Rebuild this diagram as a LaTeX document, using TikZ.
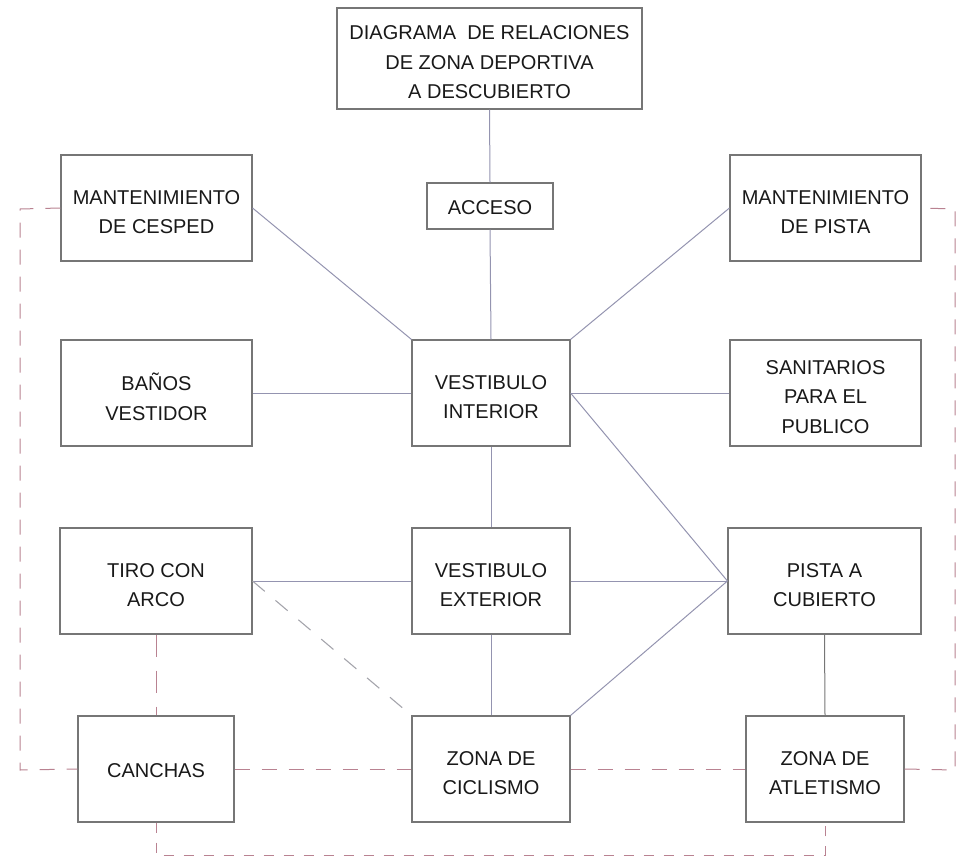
\documentclass[tikz,border=0pt]{standalone}
\usepackage{fontspec}
\setmainfont{Liberation Sans}
\definecolor{boxline}{RGB}{118,118,118}
\definecolor{link}{RGB}{148,148,176}
\definecolor{zone}{RGB}{185,130,145}
\definecolor{softdash}{RGB}{165,165,172}
\definecolor{labeltext}{RGB}{25,25,25}
\begin{document}
\begin{tikzpicture}[x=1pt,y=-1pt,
  room/.style={draw=boxline,line width=1.1pt,fill=white,inner sep=0pt},
  roomtext/.style={inner sep=0pt,align=center,text=labeltext,yshift=-4pt,
    font=\fontsize{20}{29.5}\selectfont},
  rel/.style={draw=link,line width=1pt},
  weak/.style={draw=softdash,line width=1.1pt,dash pattern=on 16pt off 14pt},
  zoneline/.style={draw=zone,line width=1pt,dash pattern=on 15pt off 12pt}]
\useasboundingbox (0,0) rectangle (958,859);

% rooms, each with its name set slightly below the middle
\node[room,minimum width=305pt,minimum height=101pt,
  label={[roomtext]center:{DIAGRAMA\ \ DE RELACIONES\\DE ZONA DEPORTIVA\\A DESCUBIERTO}}] (title) at (489.5,58.5) {};
\node[room,minimum width=126pt,minimum height=46pt,
  label={[roomtext,yshift=2pt]center:{ACCESO}}] (acceso) at (490,206) {};
\node[room,minimum width=191pt,minimum height=106pt,
  label={[roomtext]center:{MANTENIMIENTO\\DE CESPED}}] (mcesped) at (156.5,208) {};
\node[room,minimum width=191pt,minimum height=106pt,
  label={[roomtext]center:{MANTENIMIENTO\\DE PISTA}}] (mpista) at (825.5,208) {};
\node[room,minimum width=158pt,minimum height=106pt,
  label={[roomtext]center:{VESTIBULO\\INTERIOR}}] (vint) at (491,393) {};
\node[room,minimum width=191pt,minimum height=106pt,
  label={[roomtext]center:{BAÑOS\\VESTIDOR}}] (banos) at (156.5,393) {};
\node[room,minimum width=191pt,minimum height=106pt,
  label={[roomtext]center:{SANITARIOS\\PARA EL\\PUBLICO}}] (sanit) at (825.5,393) {};
\node[room,minimum width=192pt,minimum height=106pt,
  label={[roomtext]center:{TIRO CON\\ARCO}}] (tiro) at (156,581) {};
\node[room,minimum width=158pt,minimum height=106pt,
  label={[roomtext]center:{VESTIBULO\\EXTERIOR}}] (vext) at (491,581) {};
\node[room,minimum width=193pt,minimum height=106pt,
  label={[roomtext]center:{PISTA A\\CUBIERTO}}] (pista) at (824.5,581) {};
\node[room,minimum width=156pt,minimum height=106pt,
  label={[roomtext,yshift=2pt]center:{CANCHAS}}] (canchas) at (156,769) {};
\node[room,minimum width=158pt,minimum height=106pt,
  label={[roomtext]center:{ZONA DE\\CICLISMO}}] (cicl) at (491,769) {};
\node[room,minimum width=158pt,minimum height=106pt,
  label={[roomtext]center:{ZONA DE\\ATLETISMO}}] (atlet) at (825,769) {};

% corners of the outdoor zone outline
\coordinate (zl1) at (20,209);
\coordinate (zl2) at (20,770);
\coordinate (zr1) at (955,209);
\coordinate (zr2) at (955,770);
\coordinate (zb1) at (156,855);
\coordinate (zb2) at (825,855);

% direct relations
\draw[rel] (title.south) -- (acceso.north);
\draw[rel] (acceso.south) -- (vint.north);
\draw[rel] (vint.south) -- (vext.north);
\draw[rel] (vext.south) -- (cicl.north);
\draw[rel] (mcesped.east) -- (vint.north west);
\draw[rel] (mpista.west) -- (vint.north east);
\draw[rel] (banos.east) -- (vint.west);
\draw[rel] (vint.east) -- (sanit.west);
\draw[rel] (vint.east) -- (pista.west);
\draw[rel] (tiro.east) -- (vext.west);
\draw[rel] (vext.east) -- (pista.west);
\draw[rel] (cicl.north east) -- (pista.west);
\draw[rel,draw=boxline] (pista.south) -- (atlet.north);

% indirect relations
\draw[weak] (tiro.east) -- (cicl.north west);
\draw[zoneline,dash pattern=on 22pt off 14pt] (tiro.south) -- (canchas.north);

% outdoor zone outline
\draw[zoneline] (mcesped.west) -- (zl1) -- (zl2) -- (canchas.west);
\draw[zoneline] (canchas.east) -- (cicl.west);
\draw[zoneline] (cicl.east) -- (atlet.west);
\draw[zoneline] (atlet.east) -- (zr2) -- (zr1) -- (mpista.east);
\draw[zoneline,dash pattern=on 10pt off 10pt] (canchas.south) -- (zb1) -- (zb2) -- (atlet.south);
\end{tikzpicture}
\end{document}
